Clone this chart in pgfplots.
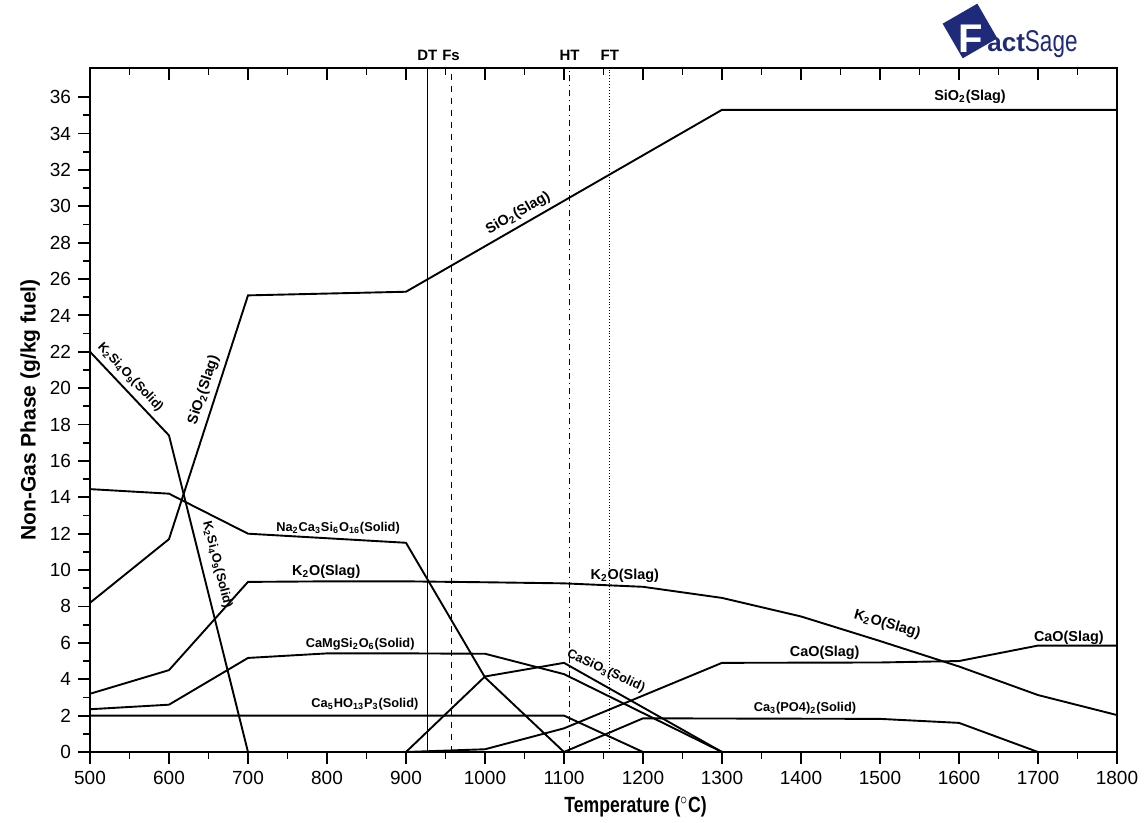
\documentclass[border=0pt]{standalone}
\usepackage{pgfplots}
\pgfplotsset{compat=1.18}
\usepackage{fontspec}
\setmainfont{Liberation Sans}
\definecolor{fsnavy}{HTML}{1F2B7A}
\tikzset{
  lbl/.style={font=\fontsize{7.2}{8}\selectfont\bfseries, inner sep=0pt},
  slbl/.style={font=\fontsize{6.4}{7}\selectfont\bfseries, inner sep=0pt},
  tlbl/.style={font=\fontsize{7.5}{8}\selectfont\bfseries, inner sep=0pt, anchor=south, yshift=3.5pt},
}

\begin{document}
\begin{tikzpicture}
\useasboundingbox (0,0) rectangle (574pt,411.5pt);
\pgfplotsset{
  commonax/.style={
    at={(45pt,35.5pt)}, anchor=south west,
    scale only axis, width=513.5pt, height=342pt,
    xmin=500, xmax=1800, ymin=0, ymax=37.6,
    xtick={500,600,...,1800}, minor x tick num=1,
    ytick={0,2,...,36}, minor y tick num=1,
    major tick length=6pt, minor tick length=3.5pt,
    tick style={black, line width=0.9pt},
    axis line style={line width=1.2pt},
    clip=false,
  },
  dl/.style={black, solid, mark=none, line width=0.95pt},
}
% top ticks (inside)
\begin{axis}[commonax,
  xtick pos=right, ytick=\empty, tick align=inside,
  xticklabels={}, yticklabels={}]
\end{axis}
\begin{axis}[commonax,
  xtick pos=left, ytick pos=left, tick align=outside,
  tick label style={font=\fontsize{9.5}{10}\selectfont},
  /pgf/number format/assume math mode=true,
  /pgf/number format/1000 sep={},
  xlabel={\scalebox{0.8}[1]{\bfseries Temperature ($^\circ$C)}},
  xlabel style={font=\fontsize{11}{12}\selectfont, yshift=1pt, xshift=16pt},
  ylabel={\bfseries Non-Gas Phase (g/kg fuel)},
  ylabel style={font=\fontsize{10.5}{12}\selectfont, yshift=-2pt},
]
% SiO2(Slag)
\addplot[dl] coordinates {(500,8.2)(600,11.7)(700,25.1)(800,25.2)(900,25.3)(1300,35.3)(1800,35.3)};
% K2Si4O9(Solid)
\addplot[dl] coordinates {(500,22.0)(600,17.4)(700,0)};
% Na2Ca3Si6O16(Solid)
\addplot[dl] coordinates {(500,14.45)(600,14.2)(700,12.0)(800,11.75)(900,11.5)(1000,4.1)(1100,0)};
% K2O(Slag)
\addplot[dl] coordinates {(500,3.2)(600,4.5)(700,9.35)(800,9.38)(900,9.38)(1000,9.33)(1100,9.27)(1200,9.08)(1300,8.47)(1400,7.45)(1500,6.1)(1600,4.7)(1700,3.13)(1800,2.03)};
% CaMgSi2O6(Solid)
\addplot[dl] coordinates {(500,2.35)(600,2.6)(700,5.17)(800,5.42)(900,5.42)(1000,5.4)(1100,4.28)(1300,0)};
% CaSiO3(Solid)
\addplot[dl] coordinates {(900,0)(1000,4.15)(1100,4.9)(1300,0)};
% CaO(Slag)
\addplot[dl] coordinates {(900,0)(1000,0.15)(1100,1.3)(1300,4.9)(1500,4.92)(1600,5.0)(1700,5.85)(1800,5.85)};
% Ca5HO13P3(Solid)
\addplot[dl] coordinates {(500,2.0)(1100,2.0)(1200,0)};
% Ca3(PO4)2(Solid)
\addplot[dl] coordinates {(1100,0)(1200,1.85)(1500,1.82)(1600,1.6)(1700,0)};

% characteristic temperatures
\addplot[black, line width=0.45pt] coordinates {(927,0)(927,37.6)};
\addplot[black, line width=0.45pt, dashed] coordinates {(957,0)(957,37.6)};
\addplot[black, line width=0.45pt, dash dot] coordinates {(1107,0)(1107,37.6)};
\addplot[black, line width=0.45pt, densely dotted] coordinates {(1158,0)(1158,37.6)};
\node[tlbl] at (axis cs:927,37.6) {DT};
\node[tlbl] at (axis cs:957,37.6) {Fs};
\node[tlbl] at (axis cs:1107,37.6) {HT};
\node[tlbl] at (axis cs:1158,37.6) {FT};

% labels
\node[lbl] at (axis cs:1614,36.0) {SiO\textsubscript{2}(Slag)};
\node[lbl, rotate=30] at (axis cs:1042,29.6) {SiO\textsubscript{2}(Slag)};
\node[lbl, rotate=72] at (axis cs:644,19.9) {SiO\textsubscript{2}(Slag)};
\node[slbl, rotate=-46.7] at (axis cs:551,20.6) {K\textsubscript{2}Si\textsubscript{4}O\textsubscript{9}(Solid)};
\node[slbl, rotate=-76] at (axis cs:661,10.3) {K\textsubscript{2}Si\textsubscript{4}O\textsubscript{9}(Solid)};
\node[slbl] at (axis cs:814,12.3) {Na\textsubscript{2}Ca\textsubscript{3}Si\textsubscript{6}O\textsubscript{16}(Solid)};
\node[lbl] at (axis cs:799,9.9) {K\textsubscript{2}O(Slag)};
\node[lbl] at (axis cs:1177,9.7) {K\textsubscript{2}O(Slag)};
\node[lbl, rotate=-16] at (axis cs:1509,7.0) {K\textsubscript{2}O(Slag)};
\node[lbl] at (axis cs:1430,5.45) {CaO(Slag)};
\node[lbl] at (axis cs:1739,6.3) {CaO(Slag)};
\node[slbl] at (axis cs:842,5.93) {CaMgSi\textsubscript{2}O\textsubscript{6}(Solid)};
\node[slbl] at (axis cs:848,2.64) {Ca\textsubscript{5}HO\textsubscript{13}P\textsubscript{3}(Solid)};
\node[slbl, rotate=-25] at (axis cs:1153,4.45) {CaSiO\textsubscript{3}(Solid)};
\node[slbl] at (axis cs:1405,2.4) {Ca\textsubscript{3}(PO4)\textsubscript{2}(Solid)};
\end{axis}

% FactSage logo
\fill[fsnavy, rotate around={30:(485pt,396pt)}] (475pt,386pt) rectangle (495pt,406pt);
\node[anchor=base west, inner sep=0pt, text=white, font=\fontsize{20}{20}\selectfont\bfseries] at (479pt,385pt) {F};
\node[anchor=base west, inner sep=0pt, text=fsnavy, font=\fontsize{13}{13}\selectfont\bfseries] at (493.5pt,385.5pt) {act\scalebox{0.75}[1]{\mdseries\fontsize{15}{15}\selectfont Sage}};
\end{tikzpicture}
\end{document}
